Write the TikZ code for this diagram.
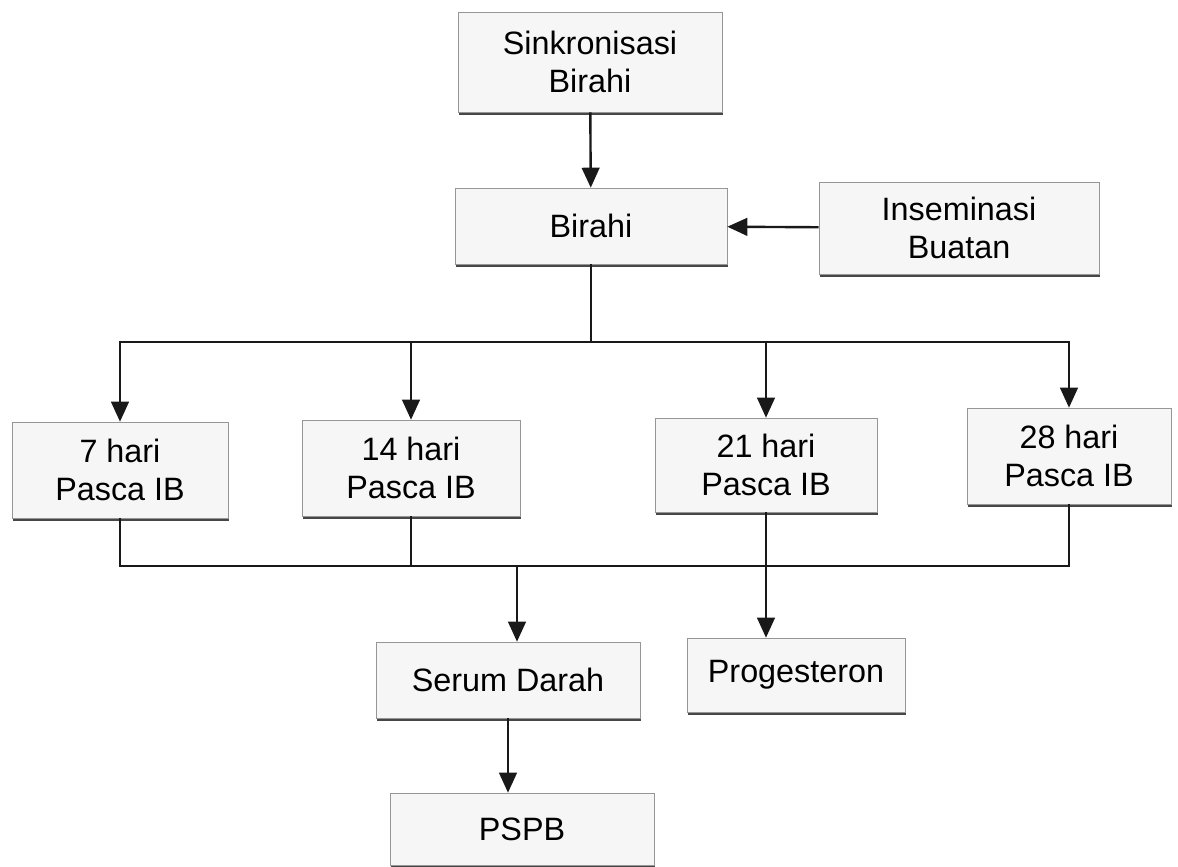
\documentclass[tikz,border=0pt]{standalone}
\usepackage{fontspec}
\setmainfont{Liberation Sans}
\usepackage{tikz}
\usetikzlibrary{arrows.meta,positioning,shadows}
\definecolor{boxgray}{RGB}{246, 246, 246}
\definecolor{edgegray}{RGB}{150, 150, 150}
\tikzset{
 stage/.style={
 rectangle,
 draw=edgegray,
 fill=boxgray,
 line width=0.4pt,
 align=center,
 inner sep=2pt,
 font=\fontsize{23}{26.5}\selectfont,
 drop shadow={shadow xshift=0.6pt, shadow yshift=-1.8pt, opacity=0.9, fill=black!80}
 },
 flowline/.style={line width=1.7pt, draw=black!90},
 flowarrow/.style={-{Triangle[length=5mm, width=4.4mm]}, line width=1.7pt, draw=black!90}
}

\begin{document}
\begin{tikzpicture}[x=0.025cm, y=-0.025cm]
 \useasboundingbox (0,0) rectangle (1178,867);
 \node[stage, minimum width=6.6cm, minimum height=2.5cm] (sinkron) at (590,62) {Sinkronisasi\\Birahi};
 \node[stage, minimum width=6.8cm, minimum height=1.9cm] (birahi) at (591,226) {Birahi};
 \node[stage, minimum width=7.0cm, minimum height=2.3cm] (inseminasi) at (959,228) {Inseminasi\\Buatan};

 \node[stage, minimum width=5.4cm, minimum height=2.4cm] (h7) at (120,470) {7 hari\\Pasca IB};
 \node[stage, minimum width=5.45cm, minimum height=2.4cm] (h14) at (411,468) {14 hari\\Pasca IB};
 \node[stage, minimum width=5.55cm, minimum height=2.35cm] (h21) at (766,465) {21 hari\\Pasca IB};
 \node[stage, minimum width=5.1cm, minimum height=2.4cm] (h28) at (1069,456) {28 hari\\Pasca IB};

 \node[stage, minimum width=6.6cm, minimum height=1.9cm] (serum) at (508,680) {Serum Darah};
 \node[stage, minimum width=5.45cm, minimum height=1.85cm] (progest) at (796,675) {Progesteron};
 \node[stage, minimum width=6.6cm, minimum height=1.8cm] (pspb) at (522,829) {PSPB};

 \coordinate (split) at (591,342);
 \coordinate (merge) at (517,566);

 \draw[flowarrow] (sinkron) -- (birahi);
 \draw[flowarrow] (inseminasi) -- (birahi);
 \draw[flowline] (birahi) -- (split);
 \draw[flowarrow] (split) -| (h7);
 \draw[flowarrow] (split) -| (h28);
 \draw[flowarrow] (split -| h14) -- (h14);
 \draw[flowarrow] (split -| h21) -- (h21);

 \draw[flowline] (h7) -- (h7 |- merge) -- (h28 |- merge) -- (h28);
 \draw[flowline] (h14) -- (h14 |- merge);
 \draw[flowarrow] (merge) -- (merge |- serum.north);
 \draw[flowarrow] (h21) -- (h21 |- progest.north);
 \draw[flowarrow] (serum) -- (serum |- pspb.north);
\end{tikzpicture}
\end{document}
